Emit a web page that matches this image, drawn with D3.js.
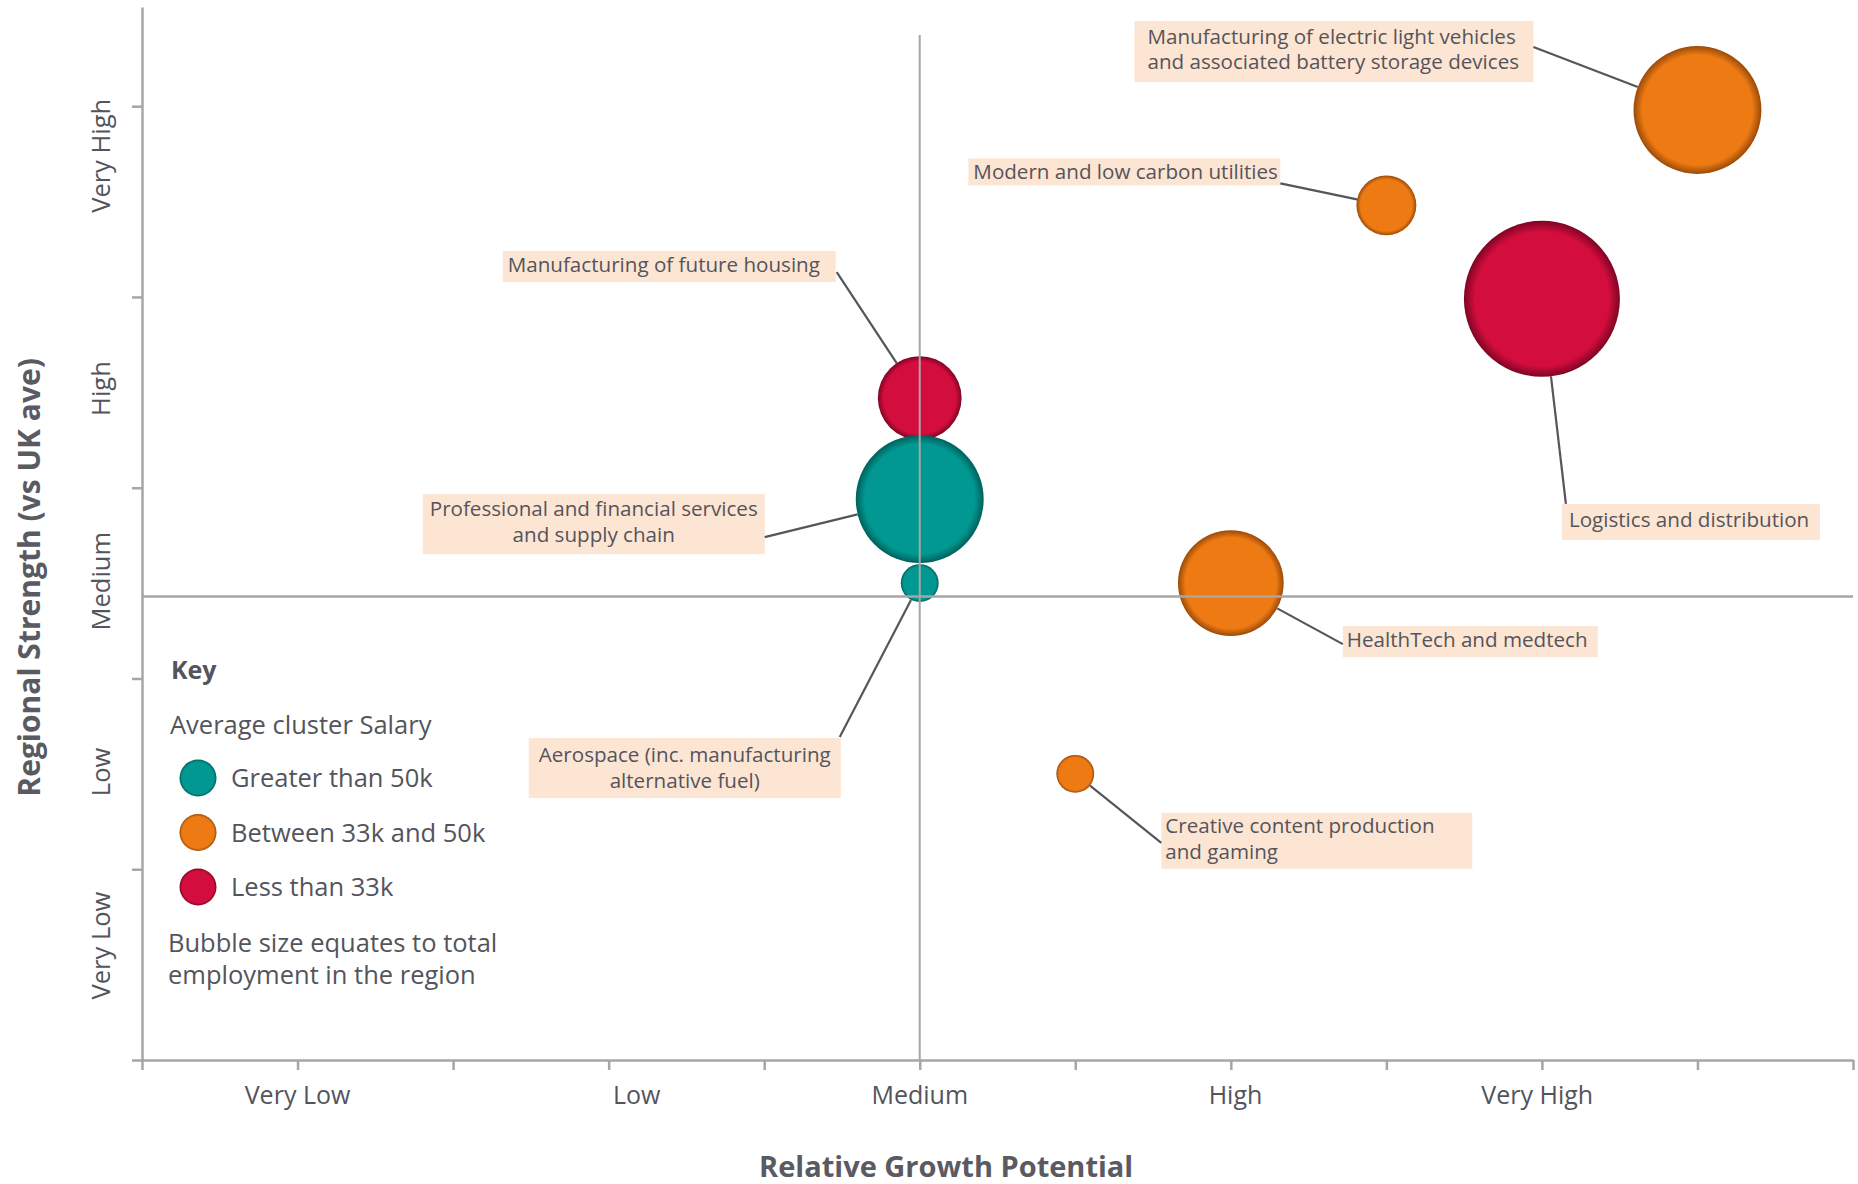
<!DOCTYPE html>
<html>
<head>
<meta charset="utf-8">
<script src="https://cdn.jsdelivr.net/npm/d3@7"></script>
<style>
  html, body { margin: 0; padding: 0; background: #fff; }
  svg { display: block; font-family: "Open Sans", Lato, sans-serif; }
</style>
</head>
<body>
<svg id="chart" width="1858" height="1184"></svg>
<script>
// ---------------- DATA ----------------
const clusters = [
  "Manufacturing of electric light vehicles|and associated battery storage devices",
  "Modern and low carbon utilities",
  "Logistics and distribution",
  "Manufacturing of future housing",
  "Professional and financial services|and supply chain",
  "Aerospace (inc. manufacturing|alternative fuel)",
  "HealthTech and medtech",
  "Creative content production|and gaming"
];
const growthPotential  = [10, 8, 9, 5, 5, 5, 7, 6];              // x (Relative Growth Potential)
const regionalStrength = [4.98, 4.48, 3.99, 3.47, 2.94, 2.5, 2.5, 1.5]; // y (Regional Strength)
const employment       = [41, 9, 61, 17.6, 41, 3.6, 28, 3.6];     // bubble size (relative)
const salaryBand       = ["mid", "mid", "low", "low", "high", "high", "mid", "mid"];

const salaryKeys   = ["high", "mid", "low"];
const salaryLabels = ["Greater than 50k", "Between 33k and 50k", "Less than 33k"];

const xTickLabels   = ["Very Low", "Low", "Medium", "High", "Very High"];
const xTickLabelPos = [1, 3.18, 5, 7.03, 8.97];
const yTickLabels   = ["Very Low", "Low", "Medium", "High", "Very High"];
const yTickLabelPos = [0.6, 1.51, 2.51, 3.52, 4.74];
const xMid = 5, yMid = 2.43;

// ---------------- LAYOUT (annotation placement, px relative to bubble centre) --------------
const annoLayout = [
  {dx:-563, dy:-89, w:399, h:61, align:"start",  pad:13, ly:[16,41], ax:-164, ay:-63},
  {dx:-418, dy:-47, w:312, h:27, align:"start",  pad:5,  ly:[14],    ax:-106, ay:-22},
  {dx:20,   dy:205, w:258, h:36, align:"start",  pad:7,  ly:[16],    ax:24,   ay:205},
  {dx:-417, dy:-147,w:333, h:31, align:"start",  pad:5,  ly:[14],    ax:-83,  ay:-126},
  {dx:-497, dy:-5,  w:342, h:60, align:"middle", pad:0,  ly:[15,41], ax:-155, ay:38},
  {dx:-391, dy:155, w:312, h:60, align:"middle", pad:0,  ly:[17,43], ax:-80,  ay:154},
  {dx:112,  dy:43,  w:255, h:31, align:"start",  pad:4,  ly:[14],    ax:112,  ay:61},
  {dx:86,   dy:39,  w:311, h:56, align:"start",  pad:4,  ly:[13,39], ax:86,   ay:69}
];

const colors = { high: "#009891", mid: "#EE7A13", low: "#D30D3D" };
const rims   = { high: "#00605c", mid: "#9a4a08", low: "#7e0524" };
const textColor = "#54545c";
const axisColor = "#a7a5a6";

const svg = d3.select("#chart");
const mLeft = 142, mRight = 1853, mBottom = 1060, mTop = 7;

const x = d3.scaleLinear().domain([0, 11]).range([mLeft, mRight]);
const y = d3.scaleLinear().domain([0, 5.52]).range([mBottom, mTop]);
const r = d3.scaleSqrt().domain([0, 61]).range([0, 78]);

// gradients
const defs = svg.append("defs");
salaryKeys.forEach(k => {
  const g = defs.append("radialGradient").attr("id", "grad-" + k)
    .attr("cx", "50%").attr("cy", "50%").attr("r", "50%");
  g.append("stop").attr("offset", "0%").attr("stop-color", colors[k]);
  g.append("stop").attr("offset", "86%").attr("stop-color", colors[k]);
  g.append("stop").attr("offset", "100%").attr("stop-color", rims[k]);
});

// ---------------- AXES ----------------
const xAxis = d3.axisBottom(x).tickValues(d3.range(0, 12)).tickFormat("").tickSize(10).tickSizeOuter(0);
const gx = svg.append("g").attr("transform", `translate(0,${mBottom})`).call(xAxis);
const yAxis = d3.axisLeft(y).tickValues(d3.range(0, 6)).tickFormat("").tickSize(10).tickSizeOuter(0);
const gy = svg.append("g").attr("transform", `translate(${mLeft},0)`).call(yAxis);
[gx, gy].forEach(g => {
  g.selectAll("path.domain").attr("stroke", axisColor).attr("stroke-width", 2.5);
  g.selectAll(".tick line").attr("stroke", axisColor).attr("stroke-width", 2.5);
});

// x tick labels
svg.append("g").selectAll("text").data(xTickLabels).join("text")
  .attr("x", (d, i) => x(xTickLabelPos[i]))
  .attr("y", 1104)
  .attr("text-anchor", "middle")
  .attr("font-size", 25)
  .attr("fill", textColor)
  .text(d => d);

// y tick labels
svg.append("g").selectAll("text").data(yTickLabels).join("text")
  .attr("transform", (d, i) => `translate(110,${y(yTickLabelPos[i])}) rotate(-90)`)
  .attr("text-anchor", "middle")
  .attr("font-size", 25.5)
  .attr("fill", textColor)
  .text(d => d);

// axis titles
svg.append("text")
  .attr("x", x(5.17)).attr("y", 1177)
  .attr("text-anchor", "middle")
  .attr("font-size", 29).attr("font-weight", "bold")
  .attr("fill", "#5a5a62")
  .text("Relative Growth Potential");
svg.append("text")
  .attr("transform", `translate(40,${y(2.53)}) rotate(-90)`)
  .attr("text-anchor", "middle")
  .attr("font-size", 30).attr("font-weight", "bold")
  .attr("fill", "#5a5a62")
  .text("Regional Strength (vs UK ave)");

// ---------------- ANNOTATIONS ----------------
const pts = clusters.map((c, i) => ({
  label: c.split("|"),
  cx: x(growthPotential[i]),
  cy: y(regionalStrength[i]),
  rad: r(employment[i]),
  band: salaryBand[i],
  L: annoLayout[i]
}));

const gl = svg.append("g");
pts.forEach(p => {
  const L = p.L;
  const bx = p.cx + L.dx, by = p.cy + L.dy;
  gl.append("rect").attr("x", bx).attr("y", by).attr("width", L.w).attr("height", L.h)
    .attr("fill", "#fde5d3");
  p.label.forEach((line, j) => {
    gl.append("text")
      .attr("x", L.align === "middle" ? bx + L.w / 2 : bx + L.pad)
      .attr("y", by + L.ly[j] + 7)
      .attr("text-anchor", L.align)
      .attr("font-size", 20.6)
      .attr("fill", textColor)
      .text(line);
  });
  // leader line
  const ax = p.cx + L.ax, ay = p.cy + L.ay;
  const vx = p.cx - ax, vy = p.cy - ay, len = Math.hypot(vx, vy);
  gl.append("line")
    .attr("x1", ax).attr("y1", ay)
    .attr("x2", p.cx - vx / len * p.rad).attr("y2", p.cy - vy / len * p.rad)
    .attr("stroke", "#55555d").attr("stroke-width", 2.2);
});

// bubbles
svg.append("g").selectAll("circle").data(pts).join("circle")
  .attr("cx", d => d.cx).attr("cy", d => d.cy).attr("r", d => d.rad)
  .attr("fill", d => `url(#grad-${d.band})`);

// quadrant lines (drawn over bubbles, as in the reference)
svg.append("line")
  .attr("x1", x(xMid)).attr("x2", x(xMid))
  .attr("y1", 35).attr("y2", mBottom)
  .attr("stroke", axisColor).attr("stroke-width", 2);
svg.append("line")
  .attr("x1", mLeft).attr("x2", mRight)
  .attr("y1", y(yMid)).attr("y2", y(yMid))
  .attr("stroke", axisColor).attr("stroke-width", 2.5);

// ---------------- LEGEND ----------------
const lg = svg.append("g");
lg.append("text").attr("x", 171).attr("y", 679).attr("font-size", 25).attr("font-weight", "bold")
  .attr("fill", textColor).text("Key");
lg.append("text").attr("x", 170).attr("y", 734).attr("font-size", 25.5)
  .attr("fill", textColor).text("Average cluster Salary");
salaryKeys.forEach((k, i) => {
  const cy = 778 + i * 54.5;
  lg.append("circle").attr("cx", 198).attr("cy", cy).attr("r", 18.5).attr("fill", `url(#grad-${k})`);
  lg.append("text").attr("x", 231).attr("y", cy + 9).attr("font-size", 25.5)
    .attr("fill", textColor).text(salaryLabels[i]);
});
lg.append("text").attr("x", 168).attr("y", 952).attr("font-size", 25.5)
  .attr("fill", textColor).text("Bubble size equates to total");
lg.append("text").attr("x", 168).attr("y", 984).attr("font-size", 25.5)
  .attr("fill", textColor).text("employment in the region");
</script>
</body>
</html>
